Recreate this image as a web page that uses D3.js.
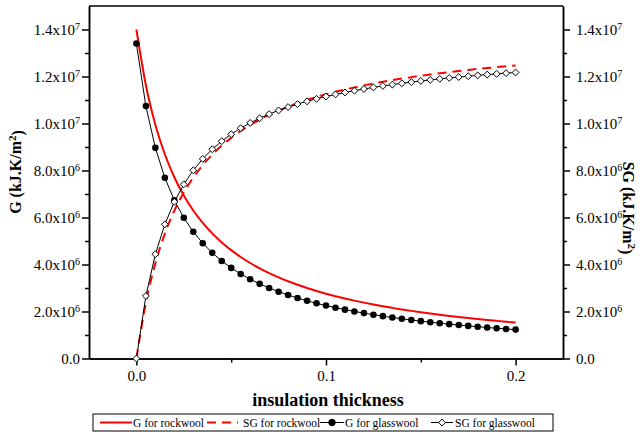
<!DOCTYPE html>
<html>
<head>
<meta charset="utf-8">
<script src="https://cdn.jsdelivr.net/npm/d3@7"></script>
<style>
  body { margin: 0; background: #fff; }
  svg { display: block; }
  .axis path, .axis line { stroke: #000; stroke-width: 1.5; }
</style>
</head>
<body>
<div class="chart"></div>
<script>
// insulation thickness (m), 0 -> 0.2 step 0.005
const thickness = d3.range(41).map(i => +(i * 0.005).toFixed(3));

// values in units of 1e6 kJ.K/m2
const gRockwool = [14.00, 11.63, 9.948, 8.690, 7.714, 6.936, 6.300, 5.771, 5.324, 4.941,
  4.610, 4.320, 4.064, 3.837, 3.634, 3.452, 3.287, 3.137, 3.000, 2.874,
  2.759, 2.652, 2.554, 2.462, 2.377, 2.298, 2.223, 2.154, 2.088, 2.027,
  1.969, 1.914, 1.862, 1.813, 1.766, 1.722, 1.680, 1.640, 1.602, 1.565, 1.530];
const sgRockwool = [0, 2.37, 4.052, 5.31, 6.286, 7.064, 7.70, 8.229, 8.676, 9.059,
  9.39, 9.68, 9.936, 10.163, 10.366, 10.548, 10.713, 10.863, 11.0, 11.126,
  11.241, 11.348, 11.446, 11.538, 11.623, 11.702, 11.777, 11.846, 11.912, 11.973,
  12.031, 12.086, 12.138, 12.187, 12.234, 12.278, 12.32, 12.36, 12.398, 12.435, 12.47];
const gGlasswool = [13.40, 10.74, 8.963, 7.690, 6.733, 5.988, 5.392, 4.904, 4.496, 4.152,
  3.856, 3.599, 3.375, 3.177, 3.001, 2.843, 2.701, 2.573, 2.456, 2.350,
  2.252, 2.162, 2.079, 2.002, 1.931, 1.864, 1.802, 1.744, 1.690, 1.639,
  1.590, 1.545, 1.502, 1.462, 1.423, 1.387, 1.352, 1.319, 1.288, 1.258, 1.229];
const sgGlasswool = [0, 2.66, 4.437, 5.71, 6.667, 7.412, 8.008, 8.496, 8.904, 9.248,
  9.544, 9.801, 10.025, 10.223, 10.399, 10.557, 10.699, 10.827, 10.944, 11.05,
  11.148, 11.238, 11.321, 11.398, 11.469, 11.536, 11.598, 11.656, 11.71, 11.761,
  11.81, 11.855, 11.898, 11.938, 11.977, 12.013, 12.048, 12.081, 12.112, 12.142, 12.171];

const xTicks = [0, 0.1, 0.2];
const xMinorTicks = [0.05, 0.15];
const yTicks = [0, 2e6, 4e6, 6e6, 8e6, 1e7, 1.2e7, 1.4e7];
const yMinorTicks = [1e6, 3e6, 5e6, 7e6, 9e6, 1.1e7, 1.3e7];

const seriesNames = ["G for rockwool", "SG for rockwool", "G for glasswool", "SG for glasswool"];

const serif = "'Liberation Serif', 'Times New Roman', serif";

// canvas
const svg_width = 644;
const svg_height = 434;
const chart = { left: 89, right: 563, top: 6, bottom: 358.5 };

const svg = d3.select(".chart").append("svg")
  .attr("width", svg_width)
  .attr("height", svg_height)
  .attr("font-family", serif);

const xScale = d3.scaleLinear([-0.025, 0.225], [chart.left, chart.right]);
const yScale = d3.scaleLinear([0, 1.5e7], [chart.bottom, chart.top]);

const toPoints = arr => arr.map((v, i) => ({ x: thickness[i], y: v * 1e6 }));

// tick label like 1.4x10^7
function sciLabel(sel) {
  sel.each(function(d) {
    const t = d3.select(this).text(null);
    if (d === 0) { t.text("0.0"); return; }
    const exp = Math.floor(Math.log10(d));
    const mant = (d / Math.pow(10, exp)).toFixed(1);
    t.append("tspan").text(mant + "x10");
    t.append("tspan").attr("dy", "-0.45em").attr("font-size", "10px").text(exp);
  });
}

// d3 axis puts sans-serif 10px on the group, drop it
function serifAxis(g) {
  g.attr("font-family", serif).attr("font-size", 15);
  g.selectAll("text").attr("fill", "#000");
}

// axes
svg.append("g").attr("class", "x axis")
  .attr("transform", `translate(0,${chart.bottom})`)
  .call(d3.axisBottom(xScale).tickValues(xTicks).tickFormat(d3.format(".1f")).tickSize(7).tickSizeOuter(0).tickPadding(5))
  .call(serifAxis);
svg.append("g").attr("class", "x axis minor")
  .attr("transform", `translate(0,${chart.bottom})`)
  .call(d3.axisBottom(xScale).tickValues(xMinorTicks).tickFormat("").tickSize(4).tickSizeOuter(0));

svg.append("g").attr("class", "y axis")
  .attr("transform", `translate(${chart.left},0)`)
  .call(d3.axisLeft(yScale).tickValues(yTicks).tickSize(7).tickSizeOuter(0).tickPadding(2))
  .call(serifAxis)
  .selectAll(".tick text").call(sciLabel);
svg.append("g").attr("class", "y axis minor")
  .attr("transform", `translate(${chart.left},0)`)
  .call(d3.axisLeft(yScale).tickValues(yMinorTicks).tickFormat("").tickSize(4).tickSizeOuter(0));

svg.append("g").attr("class", "y axis")
  .attr("transform", `translate(${chart.right},0)`)
  .call(d3.axisRight(yScale).tickValues(yTicks).tickSize(7).tickSizeOuter(0).tickPadding(6))
  .call(serifAxis)
  .selectAll(".tick text").call(sciLabel);
svg.append("g").attr("class", "y axis minor")
  .attr("transform", `translate(${chart.right},0)`)
  .call(d3.axisRight(yScale).tickValues(yMinorTicks).tickFormat("").tickSize(4).tickSizeOuter(0));

// top border
svg.append("line")
  .attr("x1", chart.left).attr("x2", chart.right)
  .attr("y1", chart.top).attr("y2", chart.top)
  .attr("stroke", "#000").attr("stroke-width", 1.5);

// axis titles
svg.append("text")
  .attr("x", (chart.left + chart.right) / 2 + 2).attr("y", 406)
  .attr("text-anchor", "middle")
  .attr("font-size", 18).attr("font-weight", "bold")
  .text("insulation thickness");

const yTitle = svg.append("text")
  .attr("transform", "translate(21,172) rotate(-90)")
  .attr("text-anchor", "middle")
  .attr("font-size", 16).attr("font-weight", "bold");
yTitle.append("tspan").text("G (kJ.K/m");
yTitle.append("tspan").attr("dy", "-0.45em").attr("font-size", 11).text("2");
yTitle.append("tspan").attr("dy", "0.45em").text(")");

const y2Title = svg.append("text")
  .attr("transform", "translate(623,208) rotate(90)")
  .attr("text-anchor", "middle")
  .attr("font-size", 16).attr("font-weight", "bold");
y2Title.append("tspan").text("SG (kJ.K/m");
y2Title.append("tspan").attr("dy", "-0.45em").attr("font-size", 11).text("2");
y2Title.append("tspan").attr("dy", "0.45em").text(")");

// lines
const smooth = d3.line().x(d => xScale(d.x)).y(d => yScale(d.y)).curve(d3.curveMonotoneX);
const straight = d3.line().x(d => xScale(d.x)).y(d => yScale(d.y));

const plot = svg.append("g").attr("class", "plot");

plot.append("path").datum(toPoints(gRockwool))
  .attr("d", smooth).attr("fill", "none")
  .attr("stroke", "#ff0000").attr("stroke-width", 2);
plot.append("path").datum(toPoints(sgRockwool))
  .attr("d", smooth).attr("fill", "none")
  .attr("stroke", "#ff0000").attr("stroke-width", 2)
  .attr("stroke-dasharray", "9,6");

plot.append("path").datum(toPoints(gGlasswool))
  .attr("d", straight).attr("fill", "none")
  .attr("stroke", "#000").attr("stroke-width", 1);
plot.append("path").datum(toPoints(sgGlasswool))
  .attr("d", straight).attr("fill", "none")
  .attr("stroke", "#000").attr("stroke-width", 1);

const circleSym = d3.symbol().type(d3.symbolCircle).size(34);
const diamondSym = d3.symbol().type(d3.symbolDiamond2).size(30);

plot.selectAll(".dot").data(toPoints(gGlasswool)).join("path")
  .attr("class", "dot")
  .attr("transform", d => `translate(${xScale(d.x)},${yScale(d.y)})`)
  .attr("d", circleSym).attr("fill", "#000");

plot.selectAll(".diamond").data(toPoints(sgGlasswool)).join("path")
  .attr("class", "diamond")
  .attr("transform", d => `translate(${xScale(d.x)},${yScale(d.y)})`)
  .attr("d", diamondSym).attr("fill", "#fff")
  .attr("stroke", "#000").attr("stroke-width", 1);

// legend
const legend = svg.append("g").attr("class", "legend").attr("font-size", 11.5);
legend.append("rect")
  .attr("x", 93).attr("y", 414).attr("width", 460).attr("height", 17)
  .attr("fill", "#fff").attr("stroke", "#000").attr("stroke-width", 1);

const legendItems = [
  { name: seriesNames[0], x0: 100, x1: 132, tx: 133, color: "#ff0000", dash: null, width: 2, mark: null },
  { name: seriesNames[1], x0: 207, x1: 238, tx: 243, color: "#ff0000", dash: "9,6", width: 2, mark: null },
  { name: seriesNames[2], x0: 320, x1: 344, tx: 345, color: "#000", dash: null, width: 1, mark: circleSym },
  { name: seriesNames[3], x0: 431, x1: 453, tx: 455, color: "#000", dash: null, width: 1, mark: diamondSym }
];
const ly = 422.5;
legendItems.forEach(d => {
  legend.append("line")
    .attr("x1", d.x0).attr("x2", d.x1).attr("y1", ly).attr("y2", ly)
    .attr("stroke", d.color).attr("stroke-width", d.width)
    .attr("stroke-dasharray", d.dash);
  if (d.mark) {
    legend.append("path")
      .attr("transform", `translate(${(d.x0 + d.x1) / 2},${ly})`)
      .attr("d", d.mark)
      .attr("fill", d.mark === circleSym ? "#000" : "#fff")
      .attr("stroke", "#000").attr("stroke-width", 1);
  }
  legend.append("text")
    .attr("x", d.tx).attr("y", ly + 4)
    .text(d.name);
});
</script>
</body>
</html>
